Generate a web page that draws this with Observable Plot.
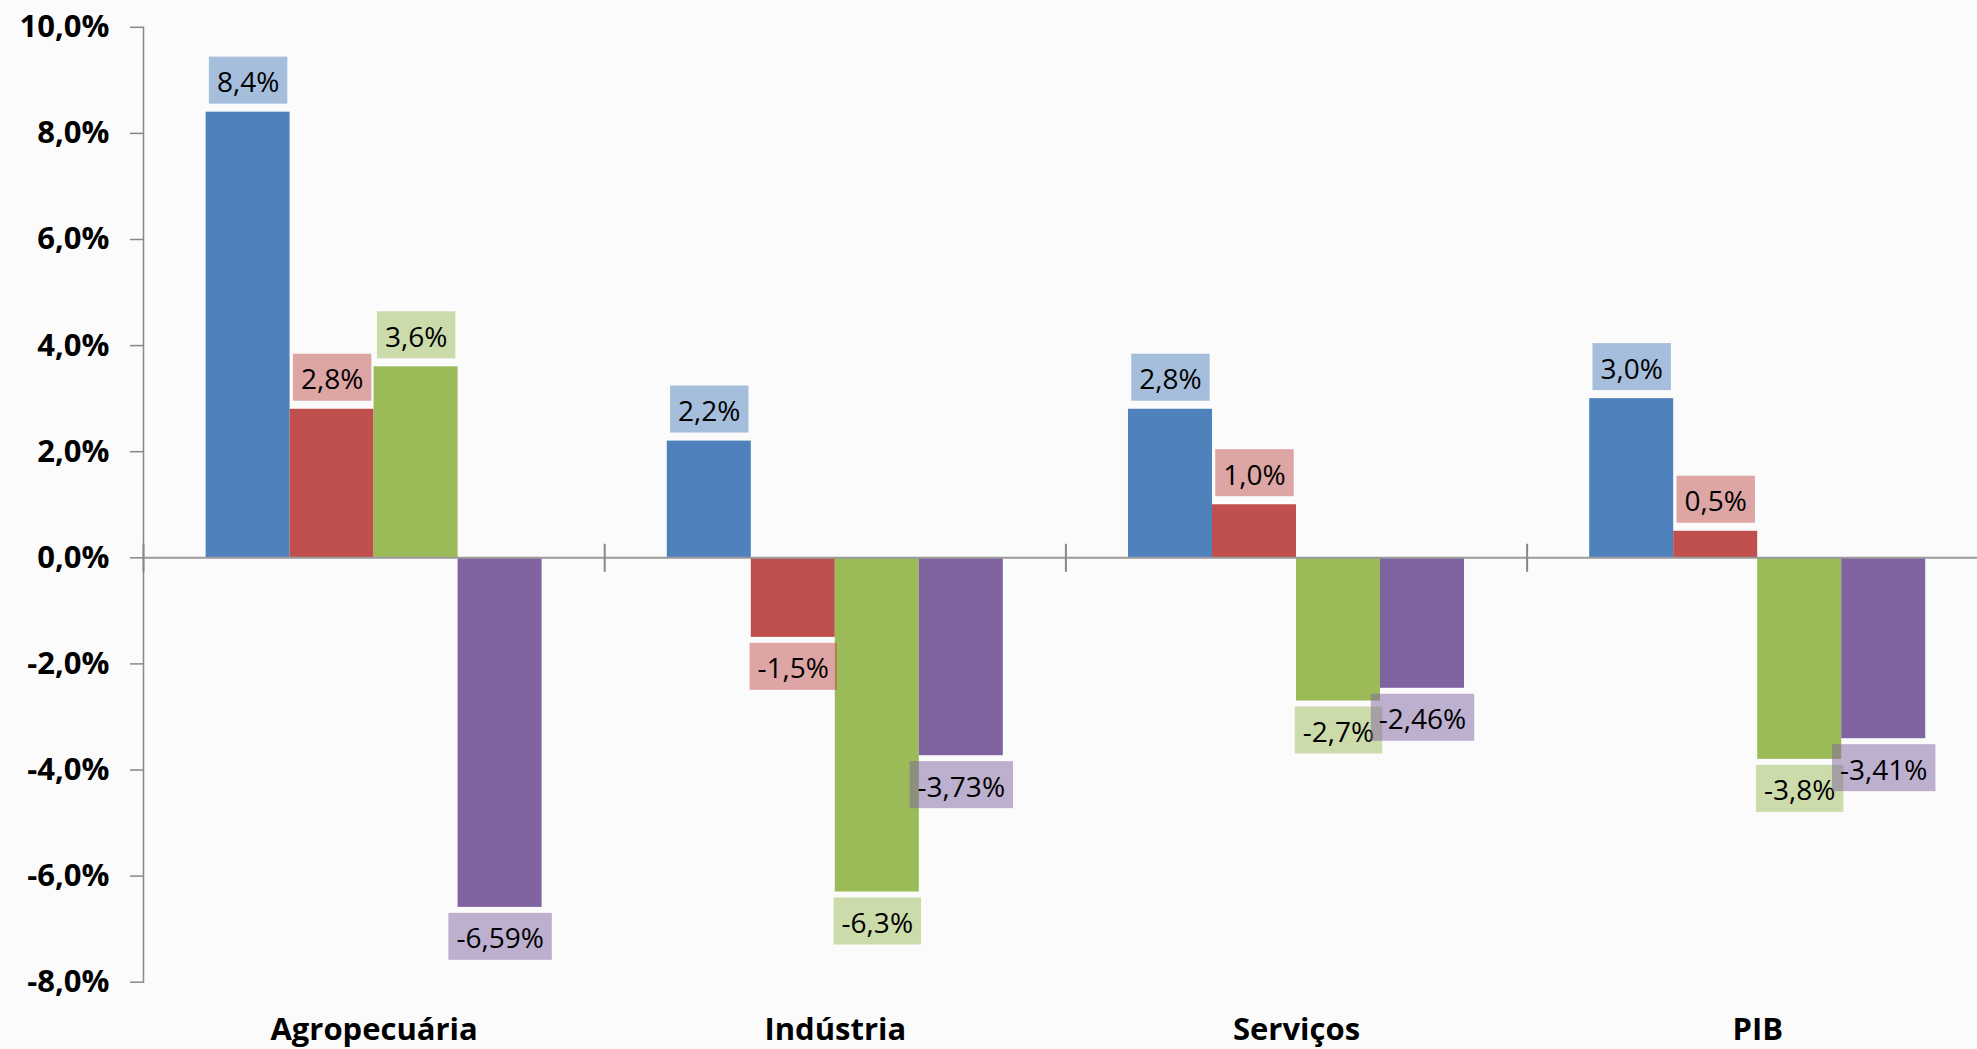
<!DOCTYPE html>
<html>
<head>
<meta charset="utf-8">
<script src="https://cdn.jsdelivr.net/npm/d3@7"></script>
<script src="https://cdn.jsdelivr.net/npm/@observablehq/plot@0.6"></script>
<style>
  html, body { margin: 0; padding: 0; background: #fbfbfb; overflow: hidden; }
  #chart svg { display: block; }
</style>
</head>
<body>
<div id="chart"></div>
<script>
// ---- data ----
const categories = ["Agropecuária", "Indústria", "Serviços", "PIB"];
const series = ["2013", "2014", "2015", "2016"];
const values2013 = [8.4, 2.2, 2.8, 3.0];
const values2014 = [2.8, -1.5, 1.0, 0.5];
const values2015 = [3.6, -6.3, -2.7, -3.8];
const values2016 = [-6.59, -3.73, -2.46, -3.41];
const labelDecimals = [1, 1, 1, 2];
const seriesColors = ["#4F81BD", "#C0504D", "#9BBB59", "#8064A2"];
const yTicks = [-8, -6, -4, -2, 0, 2, 4, 6, 8, 10];
const yDomain = [-8, 10];

const seriesValues = [values2013, values2014, values2015, values2016];
const rows = series.flatMap((s, i) =>
  categories.map((c, j) => ({category: c, series: s, value: seriesValues[i][j], decimals: labelDecimals[i]}))
);

const fmtAxis = d => d.toFixed(1).replace(".", ",") + "%";
const fmtLabel = d => d.value.toFixed(d.decimals).replace(".", ",") + "%";

// ---- layout ----
const W = 1977, H = 1049;
const mt = 26.8, mb = 67.3, ml = 143, mr = -10.8;
const k = (H - mt - mb) / (yDomain[1] - yDomain[0]);
const y0 = mt + yDomain[1] * k;
const sepHalf = 13;
const axisGray = "#888888";

const labelCommon = {fx: "category", x: "series", y: "value", text: fmtLabel,
  lineAnchor: "middle", fontSize: 28, fontWeight: "normal", fill: "#000"};

const labelMarks = series.flatMap((s, i) => [
  Plot.text(rows.filter(d => d.series === s && d.value >= 0),
    {...labelCommon, dy: -29, className: "lbl-" + i, ariaDescription: "label " + s}),
  Plot.text(rows.filter(d => d.series === s && d.value < 0),
    {...labelCommon, dy: 32, className: "lbl-" + i, ariaDescription: "label " + s})
]);

const chart = Plot.plot({
  width: W,
  height: H,
  marginTop: mt,
  marginBottom: mb,
  marginLeft: ml,
  marginRight: mr,
  fx: {domain: categories, padding: 0, round: false, label: null},
  x: {domain: series, paddingInner: 0, paddingOuter: 0.745, round: false, axis: null},
  y: {domain: yDomain, label: null},
  color: {domain: series, range: seriesColors},
  style: {fontFamily: "'Open Sans', sans-serif", background: "#fbfbfb", color: "#000", overflow: "visible"},
  marks: [
    Plot.barY(rows, {fx: "category", x: "series", y: "value", fill: "series"}),
    Plot.ruleY([0], {stroke: "#9a9a9a", strokeWidth: 2}),
    Plot.frame({anchor: "left", stroke: axisGray, strokeWidth: 2,
      insetTop: y0 - sepHalf - mt, insetBottom: (H - mb) - y0 - sepHalf}),
    Plot.frame({anchor: "left", facetAnchor: "left", stroke: axisGray, strokeWidth: 1.5}),
    Plot.axisY({ticks: yTicks, tickFormat: fmtAxis, tickSize: 13, tickPadding: 21,
      stroke: axisGray, strokeWidth: 1.5, fill: "#000", fontSize: 31, fontWeight: "bold", label: null}),
    Plot.axisFx({anchor: "bottom", tickSize: 0, tickPadding: 36, fontSize: 31,
      fontWeight: "bold", fill: "#000", label: null}),
    ...labelMarks
  ]
});

document.getElementById("chart").append(chart);

// label boxes behind the data labels, sized to the rendered text
const NS = "http://www.w3.org/2000/svg";
series.forEach((s, i) => {
  const texts = chart.querySelectorAll(`g.lbl-${i} text, g[aria-description="label ${s}"] text`);
  texts.forEach(t => {
    const b = t.getBBox();
    const padX = 8, boxH = 47;
    const cy = b.y + b.height / 2 - 1;
    const r = document.createElementNS(NS, "rect");
    r.setAttribute("x", b.x - padX);
    r.setAttribute("y", cy - boxH / 2);
    r.setAttribute("width", b.width + 2 * padX);
    r.setAttribute("height", boxH);
    const tr = t.getAttribute("transform");
    if (tr) r.setAttribute("transform", tr);
    r.setAttribute("fill", seriesColors[i]);
    r.setAttribute("fill-opacity", 0.5);
    r.setAttribute("stroke", "none");
    t.parentNode.insertBefore(r, t);
  });
});
</script>
</body>
</html>
